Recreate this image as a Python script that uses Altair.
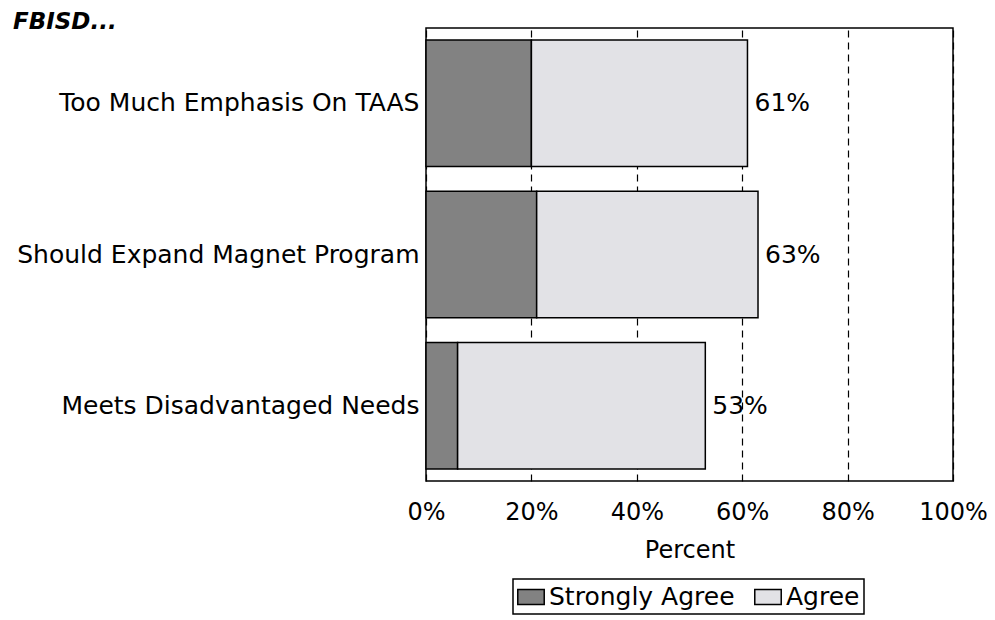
import altair as alt
import pandas as pd

categories = ["Too Much Emphasis On TAAS", "Should Expand Magnet Program", "Meets Disadvantaged Needs"]
strongly_agree = [20, 21, 6]
agree = [41, 42, 47]
totals = [61, 63, 53]
series = ["Strongly Agree", "Agree"]
colors = ["#828282", "#e2e2e6"]

rows = []
for c, s, a in zip(categories, strongly_agree, agree):
    rows.append({"cat": c, "series": "Strongly Agree", "value": s, "ord": 0})
    rows.append({"cat": c, "series": "Agree", "value": a, "ord": 1})
df = pd.DataFrame(rows)
lab = pd.DataFrame({"cat": categories, "total": totals})

FONT = "DejaVu Sans"
FS = 24

y_enc = alt.Y("cat:N", sort=categories, title=None,
              scale=alt.Scale(paddingInner=0.165, paddingOuter=0.08),
              axis=alt.Axis(labelFontSize=25, labelFont=FONT, labelColor="black",
                            ticks=False, domain=False, labelPadding=7, labelLimit=500))

bars = alt.Chart(df).mark_bar(stroke="black", strokeWidth=1.5).encode(
    x=alt.X("value:Q", stack="zero",
            scale=alt.Scale(domain=[0, 100], nice=False),
            title="Percent",
            axis=alt.Axis(values=[0, 20, 40, 60, 80, 100], labelExpr="datum.value + '%'",
                          grid=True, gridColor="black", gridDash=[7, 5], gridOpacity=1,
                          gridWidth=1.2, ticks=False, domain=False,
                          labelFontSize=24, labelFont=FONT, labelColor="black",
                          labelPadding=19, titleFontSize=FS, titleFont=FONT,
                          titleFontWeight="normal", titleColor="black", titlePadding=14,
                          labelFlush=False)),
    y=y_enc,
    color=alt.Color("series:N", sort=series,
                    scale=alt.Scale(domain=series, range=colors),
                    legend=alt.Legend(title=None, orient="none", legendX=87, legendY=551,
                                      direction="horizontal", columns=2,
                                      labelFontSize=25, labelFont=FONT, labelColor="black",
                                      labelLimit=400,
                                      symbolType="M-1,-0.57H1V0.57H-1Z", symbolSize=700,
                                      symbolStrokeColor="black", symbolStrokeWidth=1.5,
                                      symbolOpacity=1,
                                      strokeColor="black", padding=4,
                                      columnPadding=16, labelOffset=4)),
    order=alt.Order("ord:Q"),
)

texts = alt.Chart(lab).mark_text(align="left", baseline="middle", dx=7,
                                 fontSize=25, font=FONT, color="black").encode(
    x=alt.X("total:Q"),
    y=alt.Y("cat:N", sort=categories),
    text=alt.Text("label:N"),
).transform_calculate(label="datum.total + '%'")

chart = alt.layer(bars, texts).properties(
    width=527, height=453,
    background="white",
    autosize=alt.AutoSizeParams(type="none"),
    padding={"left": 418, "top": 20, "right": 34, "bottom": 134},
    title=alt.TitleParams("FBISD...", anchor="start", frame="group", dx=-413, offset=-6,
                          fontSize=23, font=FONT, fontStyle="italic", fontWeight="bold",
                          color="black"),
).configure_view(stroke="black", strokeWidth=1.5).configure_legend(strokeWidth=1.5)

chart.save("out.html", embed_options={"renderer": "svg", "actions": False})
